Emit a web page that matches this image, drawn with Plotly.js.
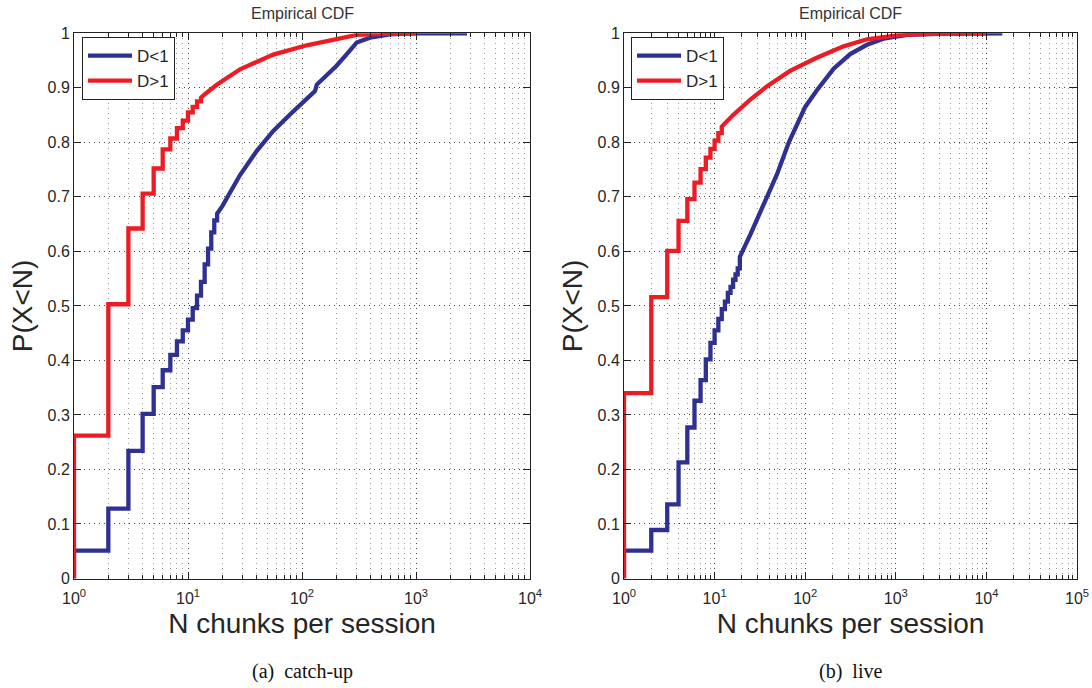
<!DOCTYPE html>
<html>
<head>
<meta charset="utf-8">
<script src="https://cdn.plot.ly/plotly-3.0.1.min.js"></script>
<style>html,body{margin:0;padding:0;background:#fff;}#chart{width:1092px;height:688px;}</style>
</head>
<body>
<div id="chart"></div>
<script>
// ---- data (N chunks, empirical CDF) ----
// (a) catch-up, D<1
const catchupBelowX = [1,2,3,4,5,6,7,8,9,10,11,12,13,14,15,16,17, 18,20,24,28.6,40,56,78.5,110,130,135,165,200,245,302,395,590,900,2800];
const catchupBelowY = [0.051,0.128,0.234,0.302,0.351,0.382,0.410,0.435,0.455,0.475,0.496,0.519,0.544,0.576,0.605,0.635,0.657, 0.669,0.683,0.712,0.740,0.784,0.821,0.851,0.879,0.894,0.906,0.924,0.940,0.961,0.983,0.992,0.998,1.0,1.0];
const catchupBelowSteps = 17;
// (a) catch-up, D>1
const catchupAboveX = [1,2,3,4,5,6,7,8,9,10,11,12, 13,14,18,28.6,56,110,188,302,500,1000];
const catchupAboveY = [0.262,0.503,0.642,0.706,0.752,0.787,0.807,0.826,0.840,0.855,0.865,0.875, 0.882,0.888,0.906,0.934,0.961,0.978,0.989,0.997,0.999,1.0];
const catchupAboveSteps = 12;
// (b) live, D<1
const liveBelowX = [1,2,3,4,5,6,7,8,9,10,11,12,13,14,15,16,17,18, 19,25,38,49,66,100,134,206,314,480,733,1330,3000,15000];
const liveBelowY = [0.051,0.089,0.136,0.213,0.277,0.326,0.364,0.402,0.432,0.455,0.476,0.494,0.508,0.524,0.535,0.548,0.558,0.569, 0.590,0.632,0.700,0.742,0.800,0.865,0.895,0.935,0.962,0.979,0.990,0.997,0.999,1.0];
const liveBelowSteps = 18;
// (b) live, D>1
const liveAboveX = [1,2,3,4,5,6,7,8,9,10,11, 12,16,25,38,68,134,265,480,1120,2500,10000];
const liveAboveY = [0.340,0.516,0.601,0.656,0.696,0.726,0.751,0.772,0.788,0.803,0.817, 0.829,0.850,0.879,0.903,0.931,0.955,0.976,0.989,0.997,0.999,1.0];
const liveAboveSteps = 11;

const seriesNames = ['D<1', 'D>1'];
const panelTitles = ['Empirical CDF', 'Empirical CDF'];
const panelCaptions = ['(a)  catch-up', '(b)  live'];
const xTitle = 'N chunks per session';
const yTitle = 'P(X<N)';
const xTickValsA = [1, 10, 100, 1000, 10000];
const xTickTextA = ['10<sup>0</sup>', '10<sup>1</sup>', '10<sup>2</sup>', '10<sup>3</sup>', '10<sup>4</sup>'];
const xTickValsB = [1, 10, 100, 1000, 10000, 100000];
const xTickTextB = ['10<sup>0</sup>', '10<sup>1</sup>', '10<sup>2</sup>', '10<sup>3</sup>', '10<sup>4</sup>', '10<sup>5</sup>'];

// build staircase for the integer part of the CDF, then a continuous tail
function cdfPath(xs, ys, nSteps) {
  const px = [xs[0]], py = [0];
  for (let i = 0; i < xs.length; i++) {
    px.push(xs[i]); py.push(ys[i]);
    if (i < nSteps && i + 1 < xs.length) { px.push(xs[i + 1]); py.push(ys[i]); }
  }
  return {x: px, y: py};
}
function minorVals(decades) {
  const v = [];
  for (let d = 0; d < decades; d++) for (let k = 2; k <= 9; k++) v.push(k * Math.pow(10, d));
  return v;
}

const BLUE = '#2E3192', RED = '#ED1C24';
const pA1 = cdfPath(catchupBelowX, catchupBelowY, catchupBelowSteps);
const pA2 = cdfPath(catchupAboveX, catchupAboveY, catchupAboveSteps);
const pB1 = cdfPath(liveBelowX, liveBelowY, liveBelowSteps);
const pB2 = cdfPath(liveAboveX, liveAboveY, liveAboveSteps);

const LW = 4.3;
const traces = [
  {x: pA1.x, y: pA1.y, xaxis: 'x', yaxis: 'y', name: seriesNames[0], mode: 'lines', line: {color: BLUE, width: LW}, legend: 'legend'},
  {x: pA2.x, y: pA2.y, xaxis: 'x', yaxis: 'y', name: seriesNames[1], mode: 'lines', line: {color: RED, width: LW}, legend: 'legend'},
  {x: pB1.x, y: pB1.y, xaxis: 'x2', yaxis: 'y2', name: seriesNames[0], mode: 'lines', line: {color: BLUE, width: LW}, legend: 'legend2'},
  {x: pB2.x, y: pB2.y, xaxis: 'x2', yaxis: 'y2', name: seriesNames[1], mode: 'lines', line: {color: RED, width: LW}, legend: 'legend2'}
];

const W = 1092, H = 688;
const yDom = [1 - 578.5 / H, 1 - 33.3 / H];
const AX = '#222';
function xAxis(dom, decades, tv, tt, yref) {
  return {
    type: 'log', range: [0, decades], domain: dom, anchor: yref,
    tickmode: 'array', tickvals: tv, ticktext: tt,
    ticks: 'inside', ticklen: 7, tickwidth: 1, tickcolor: AX, ticklabelstandoff: 5,
    showline: true, linecolor: AX, linewidth: 1, mirror: 'ticks',
    showgrid: true, gridcolor: '#444', gridwidth: 1, griddash: '1px,4px',
    minor: {tickmode: 'array', tickvals: minorVals(decades), ticks: 'inside', ticklen: 4, tickcolor: AX,
            showgrid: true, gridcolor: '#9a9a9a', gridwidth: 1, griddash: '1px,4px'},
    zeroline: false, automargin: false,
    tickfont: {size: 16, color: '#262626'},
    title: {text: xTitle, font: {size: 28, color: '#262626'}, standoff: 7}
  };
}
function yAxis(xref) {
  return {
    range: [0, 1], domain: yDom, anchor: xref, tick0: 0, dtick: 0.1,
    ticks: 'inside', ticklen: 7, tickwidth: 1, tickcolor: AX,
    showline: true, linecolor: AX, linewidth: 1, mirror: 'ticks',
    showgrid: true, gridcolor: '#444', gridwidth: 1, griddash: '1px,4px',
    zeroline: false, automargin: false,
    tickfont: {size: 16, color: '#262626'},
    title: {text: yTitle, font: {size: 28, color: '#262626'}, standoff: 6}
  };
}
const domA = [74 / W, 530 / W], domB = [624 / W, 1077 / W];
function legendBox(xpx) {
  return {x: xpx / W, y: 1 - 37 / H, xanchor: 'left', yanchor: 'top', bgcolor: '#fff',
          bordercolor: AX, borderwidth: 1, font: {size: 17, color: '#262626'}, tracegroupgap: 0, itemwidth: 44};
}
const layout = {
  width: W, height: H, margin: {l: 0, r: 0, t: 0, b: 0},
  paper_bgcolor: '#fff', plot_bgcolor: '#fff',
  font: {family: 'Liberation Sans, Arial, Helvetica, sans-serif', color: '#262626'},
  showlegend: true,
  xaxis: xAxis(domA, 4, xTickValsA, xTickTextA, 'y'),
  yaxis: yAxis('x'),
  xaxis2: xAxis(domB, 5, xTickValsB, xTickTextB, 'y2'),
  yaxis2: yAxis('x2'),
  legend: legendBox(82),
  legend2: legendBox(631),
  annotations: [
    {text: panelTitles[0], xref: 'paper', yref: 'paper', x: (domA[0] + domA[1]) / 2, y: 1 - 13 / H, xanchor: 'center', yanchor: 'middle', showarrow: false, font: {size: 16, color: '#333'}},
    {text: panelTitles[1], xref: 'paper', yref: 'paper', x: (domB[0] + domB[1]) / 2, y: 1 - 13 / H, xanchor: 'center', yanchor: 'middle', showarrow: false, font: {size: 16, color: '#333'}},
    {text: panelCaptions[0], xref: 'paper', yref: 'paper', x: (domA[0] + domA[1]) / 2, y: 1 - 671 / H, xanchor: 'center', yanchor: 'middle', showarrow: false, font: {size: 20, color: '#111', family: 'Liberation Serif, Times New Roman, serif'}},
    {text: panelCaptions[1], xref: 'paper', yref: 'paper', x: (domB[0] + domB[1]) / 2, y: 1 - 671 / H, xanchor: 'center', yanchor: 'middle', showarrow: false, font: {size: 20, color: '#111', family: 'Liberation Serif, Times New Roman, serif'}}
  ]
};
Plotly.newPlot('chart', traces, layout, {staticPlot: true, displayModeBar: false});
</script>
</body>
</html>
